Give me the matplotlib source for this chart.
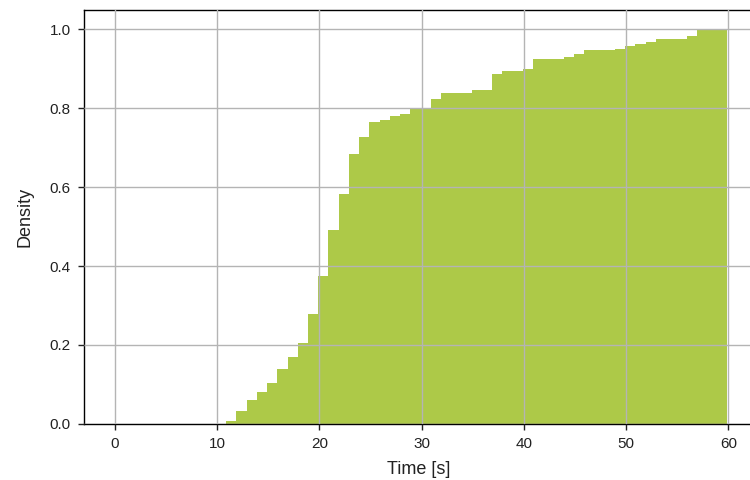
import numpy as np
import matplotlib
matplotlib.use("Agg")
import matplotlib.pyplot as plt

# cumulative density per 1 s bin
bin_left = np.linspace(10.9, 58.9, 49)
bin_width = 1.0
density = [0.008, 0.033, 0.061, 0.082, 0.105, 0.139, 0.169, 0.206, 0.278, 0.375,
           0.491, 0.582, 0.683, 0.726, 0.765, 0.770, 0.780, 0.786, 0.801, 0.801,
           0.822, 0.837, 0.837, 0.837, 0.846, 0.846, 0.885, 0.894, 0.894, 0.900,
           0.924, 0.924, 0.924, 0.929, 0.938, 0.948, 0.948, 0.948, 0.949, 0.957,
           0.963, 0.968, 0.976, 0.976, 0.976, 0.982, 1.0, 1.0, 1.0]
x_ticks = [0, 10, 20, 30, 40, 50, 60]
y_ticks = [0.0, 0.2, 0.4, 0.6, 0.8, 1.0]

plt.rcParams['font.family'] = ['Liberation Sans', 'DejaVu Sans']

fig = plt.figure(figsize=(7.5, 4.8), dpi=100)
# the right edge of the axes runs just past the figure, as in the reference
ax = fig.add_axes([0.112, 0.1167, 0.8934, 0.8623])

ax.bar(bin_left, density, width=bin_width, align='edge', color='#adc948',
       edgecolor='none', linewidth=0)

ax.set_xlim(-3.0, 62.5)
ax.set_ylim(0, 1.048)
ax.set_xticks(x_ticks)
ax.set_yticks(y_ticks)
ax.set_yticklabels(['%.1f' % v for v in y_ticks])
ax.grid(True, color='#b4b4b4', linewidth=1.0)
ax.set_axisbelow(False)
ax.tick_params(direction='out', length=4.5, width=1, colors='#222222',
               labelsize=11, labelcolor='#222222', pad=5)
for s in ax.spines.values():
    s.set_color('black')
    s.set_linewidth(1.0)
ax.spines['right'].set_visible(False)

ax.set_xlabel('Time [s]', fontsize=13, color='#222222', labelpad=7)
ax.set_ylabel('Density', fontsize=13, color='#222222', labelpad=12)

fig.savefig('out.png', dpi=100)
